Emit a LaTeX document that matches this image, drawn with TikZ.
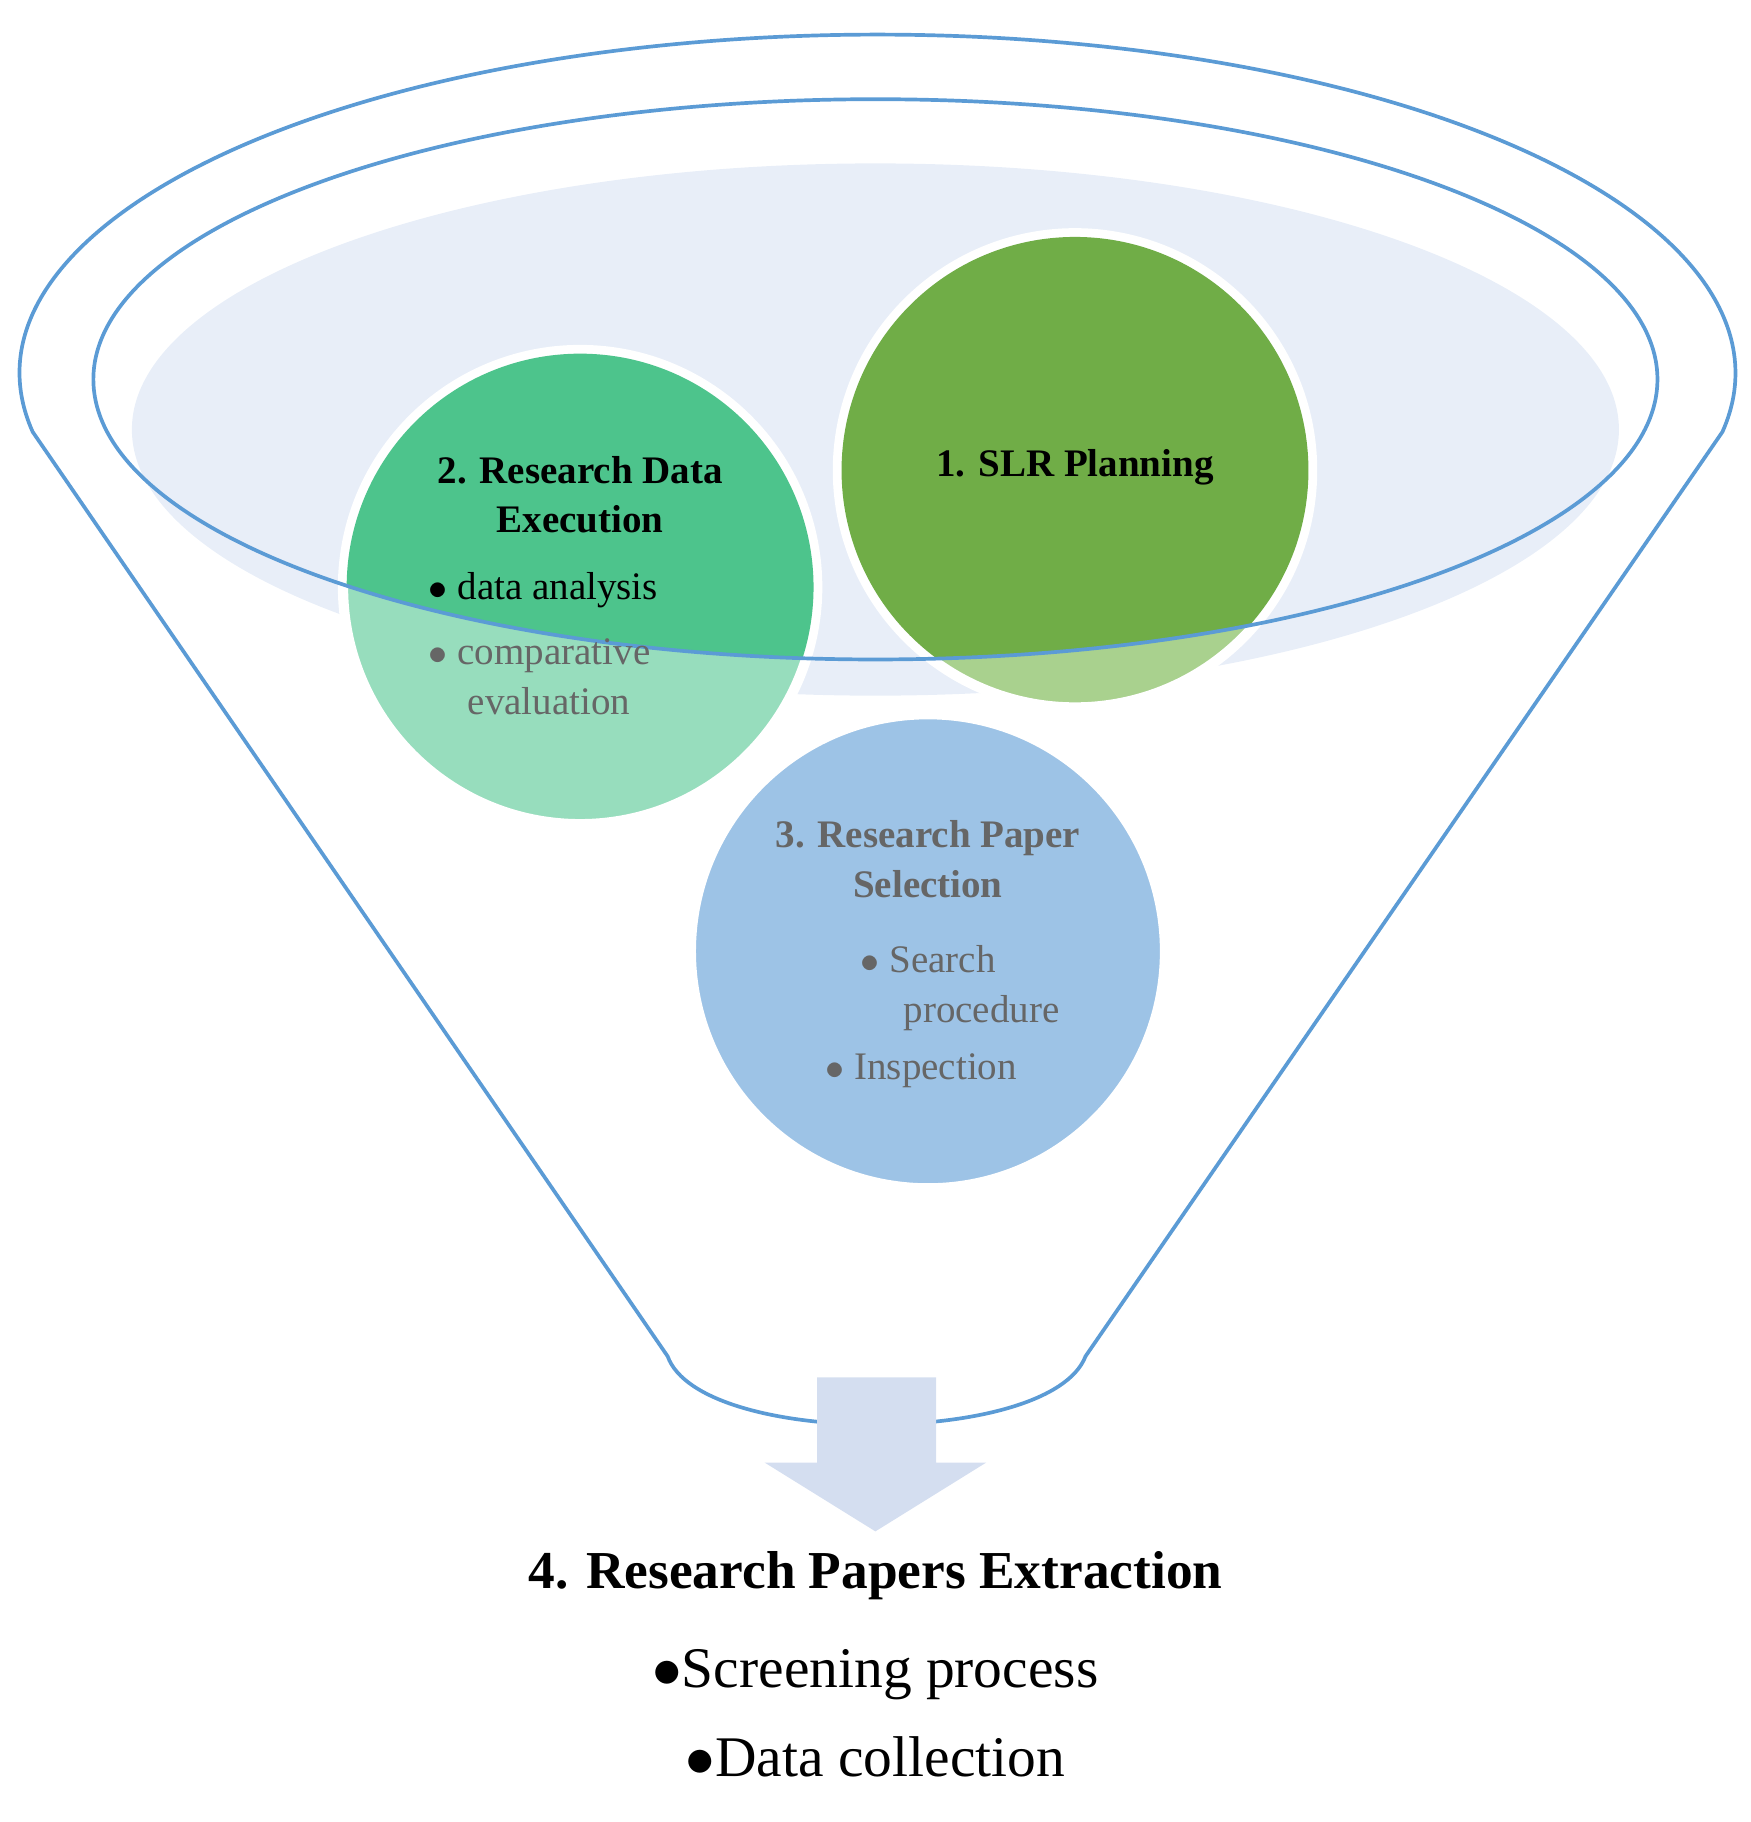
\documentclass[tikz,border=0pt]{standalone}
\usepackage{fontspec}
\setmainfont{Liberation Serif}
\definecolor{fun}{HTML}{5B9BD5}
\definecolor{lite}{HTML}{E8EEF8}
\definecolor{gA}{HTML}{70AD47}\definecolor{gAl}{HTML}{A9D18E}
\definecolor{gB}{HTML}{4DC48C}\definecolor{gBl}{HTML}{97DDBD}
\definecolor{bC}{HTML}{9DC3E6}
\definecolor{arr}{HTML}{D4DEF0}
\definecolor{tg}{HTML}{666666}
\begin{document}
\begin{tikzpicture}[x=0.01cm,y=-0.01cm,
  fl/.style={draw=fun,line width=0.9pt},
  circ/.style={circle,minimum size=4.06cm,draw=white,line width=2.5pt,inner sep=0},
  lbl/.style={align=center,font=\fontsize{9.5}{12}\selectfont}]
\useasboundingbox (0,0) rectangle (1500,1561);
% outer funnel
\draw[fl] (28,370) arc[start angle=170,end angle=370,x radius=735,y radius=290] -- (930,1162)
  .. controls (900,1240) and (600,1240) .. (572,1162) -- cycle;
\fill[lite] (750,368) ellipse[x radius=637,y radius=228];
% circles
\node[circ,fill=gBl] (c2) at (497,503) {};
\node[circ,fill=gAl] (c1) at (921,403) {};
\begin{scope}
\clip (750,325) ellipse[x radius=670,y radius=240];
\fill[gB] (497,503) circle[radius=200];
\fill[gA] (921,403) circle[radius=200];
\end{scope}
\node[circ,fill=bC] (c3) at (795,815) {};
\draw[fl] (750,325) ellipse[x radius=670,y radius=240];
% texts
\node[lbl,font=\bfseries\fontsize{9.5}{12}\selectfont] at (921,400) {1. SLR Planning};
\node[lbl,font=\bfseries\fontsize{9.5}{12}\selectfont] at (497,424) {2. Research Data\\Execution};
\node[lbl,anchor=west] at (355,506) {$\bullet$\ data analysis};
\node[lbl,anchor=north west,text=tg,align=left] at (355,535) {$\bullet$\ comparative\\\hspace*{1.0em}evaluation};
\node[lbl,text=tg,font=\bfseries\fontsize{9.5}{12}\selectfont] at (795,736) {3. Research Paper\\Selection};
\node[lbl,text=tg,align=left,anchor=north west] at (695,798) {\hspace*{0.9em}$\bullet$\ Search\\\hspace*{2.0em}procedure\\[2pt]$\bullet$\ Inspection};
% arrow
\fill[arr] (700,1180) -- (802,1180) -- (802,1253) -- (845,1253) -- (750,1312) -- (655,1253) -- (700,1253) -- cycle;
\node[font=\bfseries\fontsize{13}{15}\selectfont] (t4) at (750,1350) {4. Research Papers Extraction};
\node[font=\fontsize{14}{17}\selectfont] at (750,1435) {$\bullet$Screening process};
\node[font=\fontsize{14}{17}\selectfont] at (750,1505) {$\bullet$Data collection};
\end{tikzpicture}
\end{document}
